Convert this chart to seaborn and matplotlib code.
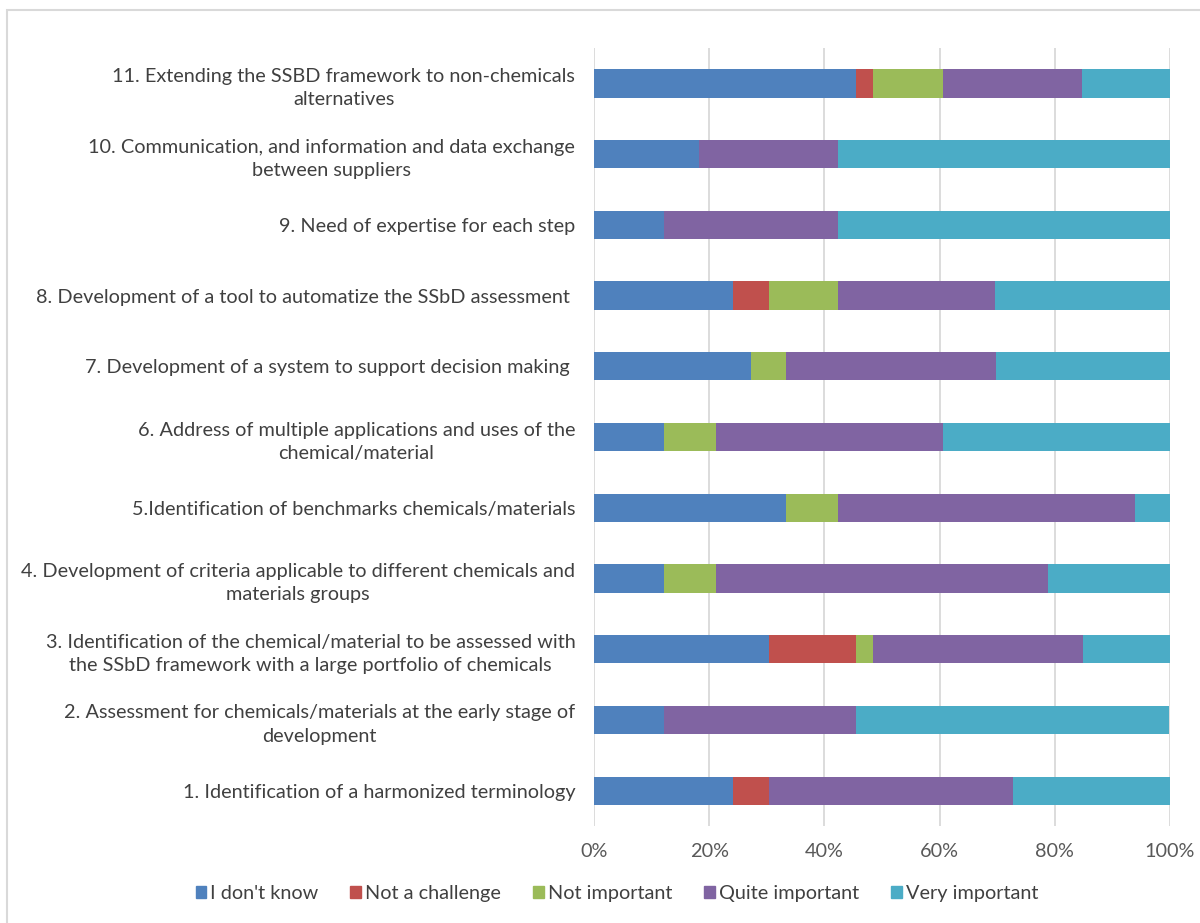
import matplotlib
matplotlib.use("Agg")
import matplotlib.pyplot as plt
import matplotlib.patches as mpatches
import seaborn as sns
import pandas as pd
import numpy as np

sns.set_theme(style="white")
plt.rcParams['font.family'] = ['Lato', 'DejaVu Sans']

# Challenges, listed top to bottom
challenges = [
    "11. Extending the SSBD framework to non-chemicals\nalternatives",
    "10. Communication, and information and data exchange\nbetween suppliers",
    "9. Need of expertise for each step",
    "8. Development of a tool to automatize the SSbD assessment ",
    "7. Development of a system to support decision making ",
    "6. Address of multiple applications and uses of the\nchemical/material",
    "5.Identification of benchmarks chemicals/materials",
    "4. Development of criteria applicable to different chemicals and\nmaterials groups",
    "3. Identification of the chemical/material to be assessed with\nthe SSbD framework with a large portfolio of chemicals",
    "2. Assessment for chemicals/materials at the early stage of\ndevelopment",
    "1. Identification of a harmonized terminology",
]

answers = ["I don't know", "Not a challenge", "Not important", "Quite important", "Very important"]
colors = ["#4F81BD", "#C0504D", "#9BBB59", "#8064A2", "#4BACC6"]

# Share of respondents (%) per answer, same order as challenges
dont_know       = [45.5, 18.2, 12.1, 24.2, 27.3, 12.1, 33.3, 12.1, 30.3, 12.1, 24.2]
not_challenge   = [3.0,  0.0,  0.0,  6.1,  0.0,  0.0,  0.0,  0.0,  15.2, 0.0,  6.1]
not_important   = [12.1, 0.0,  0.0,  12.1, 6.1,  9.1,  9.1,  9.1,  3.0,  0.0,  0.0]
quite_important = [24.2, 24.2, 30.3, 27.3, 36.4, 39.4, 51.5, 57.6, 36.4, 33.3, 42.4]
very_important  = [15.2, 57.6, 57.6, 30.3, 30.3, 39.4, 6.1,  21.2, 15.2, 54.5, 27.3]

series = [dont_know, not_challenge, not_important, quite_important, very_important]
df = pd.DataFrame({a: s for a, s in zip(answers, series)}, index=challenges)
cum = df.cumsum(axis=1)

fig = plt.figure(figsize=(12, 9.23), dpi=100)
ax = fig.add_axes([0.495, 0.105, 0.48, 0.843])

# Stacked bars: draw cumulative totals from the last segment back to the first
for ans, col in reversed(list(zip(answers, colors))):
    sns.barplot(x=cum[ans].values, y=challenges, order=challenges, orient="h",
                color=col, width=0.4, ax=ax, saturation=1, edgecolor="none",
                linewidth=0, zorder=3)

ax.set_xlim(0, 100)
ax.set_xticks(np.arange(0, 101, 20))
ax.set_xticklabels([f"{t}%" for t in range(0, 101, 20)])
ax.xaxis.grid(True, color="#d9d9d9", linewidth=1.3, zorder=0)
ax.set_axisbelow(True)
for s in ax.spines.values():
    s.set_visible(False)
ax.tick_params(axis="both", length=0, labelsize=14.3, colors="#404040")
ax.tick_params(axis="x", pad=12, colors="#595959")
ax.tick_params(axis="y", pad=13.5)
for lbl in ax.get_yticklabels():
    lbl.set_multialignment("center")
    lbl.set_linespacing(1.45)
ax.set_xlabel("")
ax.set_ylabel("")

handles = [mpatches.Patch(color=c, label=a) for a, c in zip(answers, colors)]
fig.legend(handles=handles, loc="center", bbox_to_anchor=(0.514, 0.032), ncol=5,
           frameon=False, fontsize=14.3, handlelength=0.55, handleheight=0.55,
           handletextpad=0.2, columnspacing=1.6, labelcolor="#404040")

border = mpatches.Rectangle((7 / 1200, -0.1), 1.1, 1.1 - 10 / 923, transform=fig.transFigure,
                            fill=False, edgecolor="#d9d9d9", linewidth=1.5)
fig.patches.append(border)

fig.savefig("out.png", dpi=100, facecolor="white")
